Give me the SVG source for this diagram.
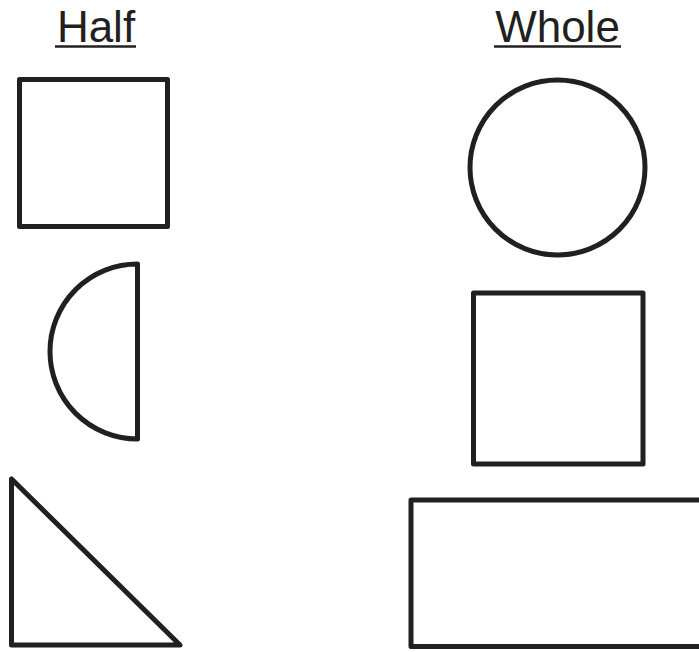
<svg xmlns="http://www.w3.org/2000/svg" width="699" height="652" viewBox="0 0 699 652">
<style>
.s{fill:none;stroke:#231f20;stroke-width:5;stroke-linejoin:round;stroke-linecap:round}
.t{font-family:"Liberation Sans",Arial,sans-serif;font-size:44px;fill:#231f20;text-anchor:middle}
.u{stroke:#231f20;stroke-width:2.5}
</style>
<rect width="699" height="652" fill="#fff"/>
<g id="title-half"><text class="t" x="96" y="42">Half</text><line class="u" x1="55" y1="46.5" x2="136" y2="46.5"/></g>
<g id="title-whole"><text class="t" x="557.5" y="42">Whole</text><line class="u" x1="494" y1="46.5" x2="621" y2="46.5"/></g>
<g id="half-square"><rect class="s" x="19.5" y="79.5" width="148" height="147"/></g>
<g id="half-semicircle"><path class="s" d="M137.5,264 A87.5,87.5 0 0 0 137.5,439 Z"/></g>
<g id="half-triangle"><path class="s" d="M11.5,479 L11.5,645 L180,645 Z"/></g>
<g id="whole-circle"><circle class="s" cx="557.5" cy="167.5" r="87.5"/></g>
<g id="whole-square"><rect class="s" x="473.5" y="293" width="169.5" height="171"/></g>
<g id="whole-rectangle"><rect class="s" x="411" y="500" width="300" height="146.5"/></g>
</svg>
